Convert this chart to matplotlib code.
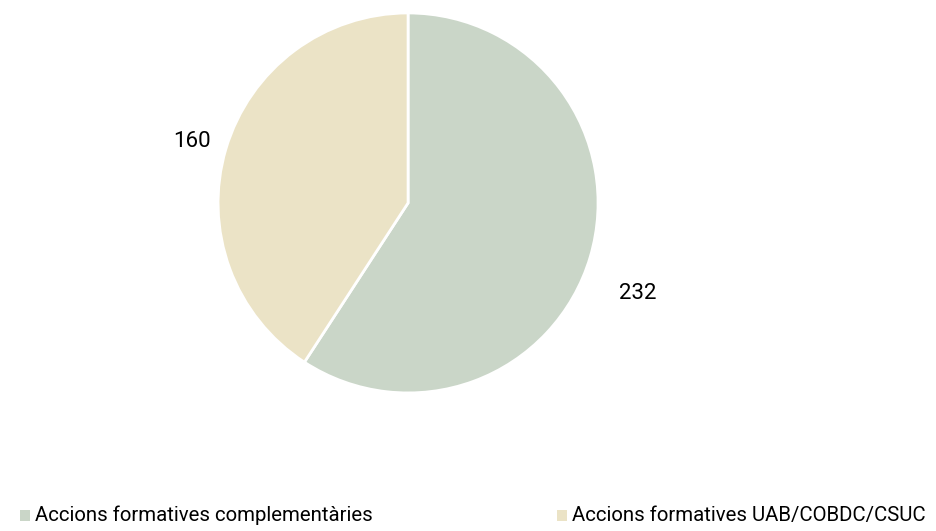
import numpy as np
import matplotlib.pyplot as plt
from matplotlib.patches import Rectangle

categories = ['Accions formatives complementàries', 'Accions formatives UAB/COBDC/CSUC']
values = [232, 160]
colors = ['#CAD6C8', '#EBE3C6']

plt.rcParams['font.family'] = ['Roboto', 'DejaVu Sans']

fig = plt.figure(figsize=(9.37, 5.31), dpi=100)
ax = fig.add_axes([0.2327, 0.26, 0.4056, 0.7156])

wedges, _ = ax.pie(values, colors=colors, startangle=90, counterclock=False,
                   radius=1.0, wedgeprops=dict(edgecolor='white', linewidth=2))
ax.set_xlim(-1, 1)
ax.set_ylim(-1, 1)
ax.set_aspect('equal')

# label placement (Excel-like "best fit" outside)
label_offset = [-4.9, 0.7]
label_dist = [1.30, 1.18]
for w, v, off, d in zip(wedges, values, label_offset, label_dist):
    ang = np.deg2rad((w.theta1 + w.theta2) / 2 + off)
    ax.text(d * np.cos(ang), d * np.sin(ang), str(v), ha='center', va='center',
            fontsize=16, color='black', clip_on=False)

# legend at bottom
leg_x = [0.021, 0.594]
for x, c, lab in zip(leg_x, colors, categories):
    fig.patches.append(Rectangle((x, 0.018), 0.0107, 0.022, transform=fig.transFigure,
                                 facecolor=c, edgecolor='none'))
    fig.text(x + 0.016, 0.03, lab, fontsize=14.7, va='center', ha='left', color='black')

fig.savefig('out.png', dpi=100)
